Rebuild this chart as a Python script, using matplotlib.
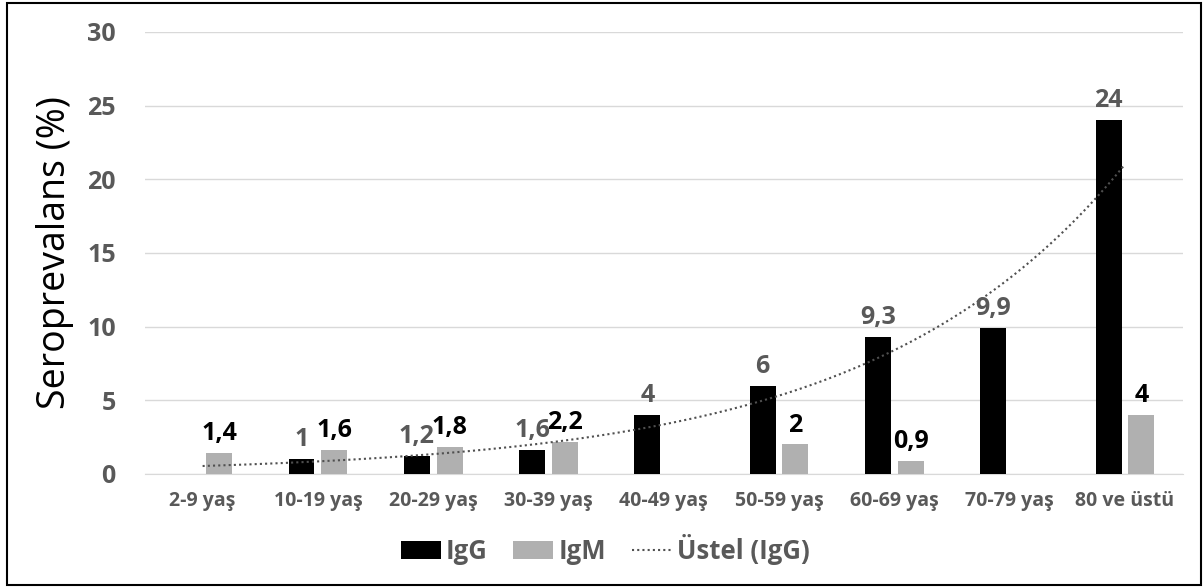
import numpy as np
import matplotlib.pyplot as plt
from matplotlib.patches import Rectangle

plt.rcParams['font.family'] = ['Open Sans', 'DejaVu Sans']

# age groups and seroprevalence (%), NaN where no value was reported
groups = ['2-9 yaş', '10-19 yaş', '20-29 yaş', '30-39 yaş', '40-49 yaş',
          '50-59 yaş', '60-69 yaş', '70-79 yaş', '80 ve üstü']
igg = [np.nan, 1, 1.2, 1.6, 4, 6, 9.3, 9.9, 24]
igm = [1.4, 1.6, 1.8, 2.2, np.nan, 2, 0.9, np.nan, 4]
igg_labels = ['', '1', '1,2', '1,6', '4', '6', '9,3', '9,9', '24']
igm_labels = ['1,4', '1,6', '1,8', '2,2', '', '2', '0,9', '', '4']

grey_text = '#595959'
x = np.arange(1, len(groups) + 1)
w = 0.225
off = 0.142

fig = plt.figure(figsize=(12.03, 5.88), dpi=100)
ax = fig.add_axes([0.1205, 0.194, 0.8625, 0.7516])

b1 = ax.bar(x - off, igg, w, color='black', label='IgG', zorder=3)
b2 = ax.bar(x + off, igm, w, color='#b0b0b0', label='IgM', zorder=3)

# exponential trendline on IgG: ln(y) = ln(a) + b*x
mask = ~np.isnan(igg)
bcoef, lna = np.polyfit(x[mask], np.log(np.array(igg)[mask]), 1)
xs = np.linspace(1, 9, 200)
ax.plot(xs, np.exp(lna + bcoef * xs), ls=(0, (1, 1.5)), lw=1.5,
        color='#505050', label='Üstel (IgG)', zorder=4)

for xi, v, t in zip(x, igg, igg_labels):
    if t:
        ax.annotate(t, (xi - off, v), xytext=(0, 5), textcoords='offset points',
                    ha='center', va='bottom', fontsize=18, fontweight='bold',
                    color=grey_text, zorder=5)
for xi, v, t in zip(x, igm, igm_labels):
    if t:
        ax.annotate(t, (xi + off, v), xytext=(0, 5), textcoords='offset points',
                    ha='center', va='bottom', fontsize=18, fontweight='bold',
                    color='black', zorder=5)

ax.set_xlim(0.5, 9.5)
ax.set_ylim(0, 30)
ax.set_yticks(range(0, 31, 5))
ax.set_xticks(x)
ax.set_xticklabels(groups)
ax.tick_params(axis='x', length=0, pad=12, labelsize=14, labelcolor=grey_text)
ax.tick_params(axis='y', length=0, pad=21, labelsize=18, labelcolor=grey_text)
for lab in ax.get_xticklabels() + ax.get_yticklabels():
    lab.set_fontweight('bold')
ax.grid(axis='y', color='#d9d9d9', lw=1, zorder=0)
for s in ['top', 'right', 'left']:
    ax.spines[s].set_visible(False)
ax.spines['bottom'].set_color('#d9d9d9')
ax.set_ylabel('Seroprevalans (%)', fontsize=27)
ax.yaxis.set_label_coords(-0.068, 0.5)

leg = fig.legend(handles=[b1, b2, ax.lines[0]], loc='center',
                 bbox_to_anchor=(0.503, 0.066), ncol=3, frameon=False,
                 prop={'size': 18.5, 'weight': 'bold'}, handlelength=1.55,
                 handleheight=0.7, handletextpad=0.2, columnspacing=1.0)
for t in leg.get_texts():
    t.set_color(grey_text)

fig.patches.append(Rectangle((0.006, 0.005), 0.992, 0.99, transform=fig.transFigure,
                             fill=False, edgecolor='black', lw=1.5))

fig.savefig('out.png', dpi=100)
